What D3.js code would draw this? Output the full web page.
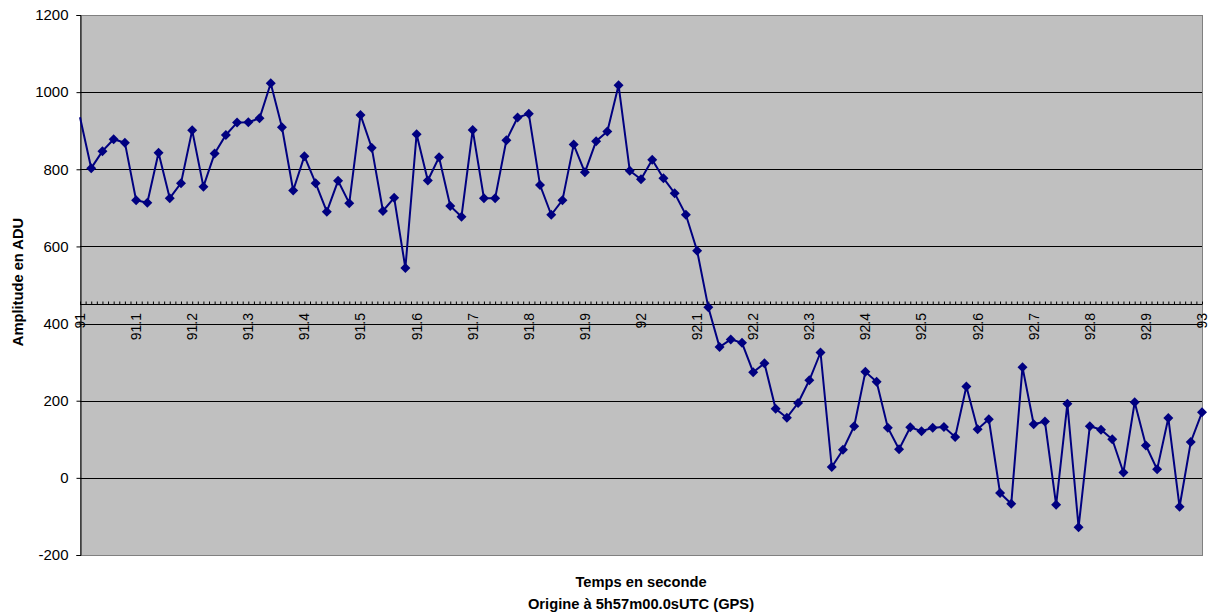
<!DOCTYPE html>
<html>
<head>
<meta charset="utf-8">
<script src="https://cdn.jsdelivr.net/npm/d3@7"></script>
<style>
  body { margin: 0; background: #fff; }
  text { font-family: "Liberation Sans", Arial, sans-serif; }
</style>
</head>
<body>
<svg id="chart" width="1211" height="616"></svg>
<script>
// sampling of the signal (seconds)
var t0 = 91;
var dt = 0.02;

// amplitude in ADU, one value per sample
var amplitudes = [935, 803, 847, 878, 869, 720, 713, 843, 725, 764,
	901, 755, 841, 889, 921, 922, 932, 1023, 909, 745,
	834, 764, 690, 770, 712, 941, 856, 692, 726, 544,
	891, 771, 831, 705, 677, 902, 725, 725, 875, 934,
	944, 759, 682, 720, 864, 792, 873, 898, 1018, 796,
	774, 825, 777, 738, 682, 589, 442, 339, 359, 350,
	274, 297, 179, 156, 194, 253, 325, 28, 73, 134,
	275, 249, 130, 74, 131, 121, 130, 132, 106, 237,
	126, 152, -39, -67, 287, 139, 146, -70, 192, -128,
	134, 125, 100, 14, 196, 84, 22, 155, -75, 93, 170];

var xTickValues = [91, 91.1, 91.2, 91.3, 91.4, 91.5, 91.6, 91.7, 91.8, 91.9, 92,
	92.1, 92.2, 92.3, 92.4, 92.5, 92.6, 92.7, 92.8, 92.9, 93];
var xTickLabels = ["91", "91.1", "91.2", "91.3", "91.4", "91.5", "91.6", "91.7", "91.8", "91.9", "92",
	"92.1", "92.2", "92.3", "92.4", "92.5", "92.6", "92.7", "92.8", "92.9", "93"];
var yTickValues = [-200, 0, 200, 400, 600, 800, 1000, 1200];
var axisCross = 450;

var plotLeft = 80, plotRight = 1202, plotTop = 15, plotBottom = 555;

var svg = d3.select("#chart");

var x = d3.scaleLinear().domain([91, 93]).range([plotLeft, plotRight]);
var y = d3.scaleLinear().domain([-200, 1200]).range([plotBottom, plotTop]);

var data = amplitudes.map(function(v, i) {
	return { t: t0 + i * dt, v: v };
});

// plot area
svg.append("rect")
	.attr("x", plotLeft + 0.5).attr("y", plotTop + 0.5)
	.attr("width", plotRight - plotLeft).attr("height", plotBottom - plotTop)
	.attr("fill", "#c0c0c0")
	.attr("stroke", "#808080")
	.attr("stroke-width", 1);

// horizontal gridlines
svg.append("g")
	.selectAll("line")
	.data(yTickValues.filter(function(d) { return d > -200 && d < 1200; }))
	.enter().append("line")
	.attr("x1", plotLeft).attr("x2", plotRight)
	.attr("y1", function(d) { return Math.round(y(d)) + 0.5; })
	.attr("y2", function(d) { return Math.round(y(d)) + 0.5; })
	.attr("stroke", "#000");

// y axis
var yAxis = d3.axisLeft(y)
	.tickValues(yTickValues)
	.tickFormat(function(d) { return String(d); })
	.tickSize(4)
	.tickPadding(8);
var gy = svg.append("g")
	.attr("transform", "translate(" + (plotLeft + 0.5) + ",0)")
	.call(yAxis);
gy.select(".domain").attr("stroke", "#000");
gy.selectAll(".tick line").attr("stroke", "#000");
gy.selectAll(".tick text")
	.attr("font-size", "15px")
	.attr("font-family", "'Liberation Sans', Arial, sans-serif")
	.attr("fill", "#000");

// x axis crossing at 450
var yCross = Math.round(y(axisCross));
var xAxis = d3.axisTop(x)
	.tickValues(d3.range(0, 201).map(function(i) { return 91 + i * 0.01; }))
	.tickSize(3)
	.tickFormat("");
var gx = svg.append("g")
	.attr("transform", "translate(0," + (yCross + 0.5) + ")")
	.call(xAxis);
gx.select(".domain").attr("stroke", "#000").attr("d", "M" + plotLeft + ",0H" + plotRight);
gx.selectAll(".tick line").attr("stroke", "#000");

svg.append("g")
	.selectAll("text")
	.data(xTickValues)
	.enter().append("text")
	.attr("transform", function(d) {
		return "translate(" + x(d) + "," + (yCross + 9) + ") rotate(-90)";
	})
	.attr("text-anchor", "end")
	.attr("dy", "0.35em")
	.attr("font-size", "14px")
	.text(function(d, i) { return xTickLabels[i]; });

// series
var line = d3.line()
	.x(function(d) { return x(d.t); })
	.y(function(d) { return y(d.v); });

svg.append("path")
	.datum(data)
	.attr("d", line)
	.attr("fill", "none")
	.attr("stroke", "#000080")
	.attr("stroke-width", 2);

var marker = d3.symbol().type(d3.symbolSquare).size(50);
svg.append("g")
	.selectAll("path")
	.data(data.slice(1))
	.enter().append("path")
	.attr("d", marker)
	.attr("transform", function(d) {
		return "translate(" + x(d.t) + "," + y(d.v) + ") rotate(45)";
	})
	.attr("fill", "#000080");

// axis titles
svg.append("text")
	.attr("transform", "translate(18,282) rotate(-90)")
	.attr("text-anchor", "middle")
	.attr("dy", "0.35em")
	.attr("font-size", "14.7px")
	.attr("font-weight", "bold")
	.text("Amplitude en ADU");

svg.append("text")
	.attr("x", (plotLeft + plotRight) / 2).attr("y", 587)
	.attr("text-anchor", "middle")
	.attr("font-size", "14.7px")
	.attr("font-weight", "bold")
	.text("Temps en seconde");

svg.append("text")
	.attr("x", (plotLeft + plotRight) / 2).attr("y", 609)
	.attr("text-anchor", "middle")
	.attr("font-size", "14.7px")
	.attr("font-weight", "bold")
	.text("Origine à 5h57m00.0sUTC (GPS)");
</script>
</body>
</html>
